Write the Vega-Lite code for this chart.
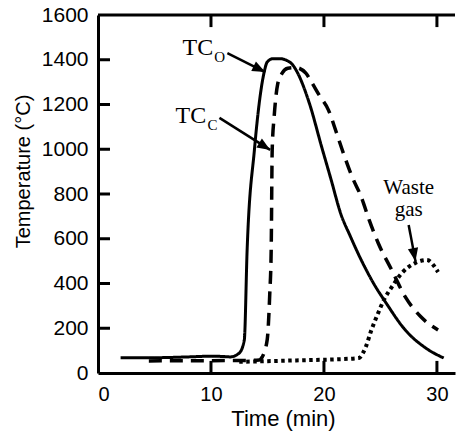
{
  "$schema": "https://vega.github.io/schema/vega-lite/v6.json",
  "autosize": "none",
  "width": 357,
  "height": 358,
  "padding": {"left": 98, "top": 15, "right": 2, "bottom": 59},
  "background": "white",
  "config": {
    "view": {"stroke": null},
    "axis": {
      "grid": false,
      "domainColor": "black",
      "labelColor": "black",
      "titleColor": "black",
      "labelFont": "Liberation Sans",
      "titleFont": "Liberation Sans",
      "titleFontWeight": "normal",
      "domainWidth": 3
    }
  },
  "layer": [
    {
      "data": {"values": [
        {"series": "TCo", "t": 2.0, "T": 68},
        {"series": "TCo", "t": 4.0, "T": 68},
        {"series": "TCo", "t": 6.0, "T": 69},
        {"series": "TCo", "t": 8.0, "T": 72},
        {"series": "TCo", "t": 10.0, "T": 75},
        {"series": "TCo", "t": 11.0, "T": 74},
        {"series": "TCo", "t": 11.7, "T": 72},
        {"series": "TCo", "t": 12.5, "T": 89},
        {"series": "TCo", "t": 12.95, "T": 147},
        {"series": "TCo", "t": 13.2, "T": 550},
        {"series": "TCo", "t": 13.85, "T": 1000},
        {"series": "TCo", "t": 14.71, "T": 1345},
        {"series": "TCo", "t": 14.98, "T": 1390},
        {"series": "TCo", "t": 15.5, "T": 1405},
        {"series": "TCo", "t": 16.04, "T": 1405},
        {"series": "TCo", "t": 17.09, "T": 1385},
        {"series": "TCo", "t": 17.53, "T": 1354},
        {"series": "TCo", "t": 18.7, "T": 1207},
        {"series": "TCo", "t": 19.8, "T": 1010},
        {"series": "TCo", "t": 20.6, "T": 870},
        {"series": "TCo", "t": 21.5, "T": 710},
        {"series": "TCo", "t": 22.3, "T": 615},
        {"series": "TCo", "t": 23.3, "T": 505},
        {"series": "TCo", "t": 24.4, "T": 400},
        {"series": "TCo", "t": 25.5, "T": 313},
        {"series": "TCo", "t": 27.2, "T": 192},
        {"series": "TCo", "t": 29.0, "T": 112},
        {"series": "TCo", "t": 30.6, "T": 67},
        {"series": "TCc", "t": 4.5, "T": 54},
        {"series": "TCc", "t": 9.0, "T": 55},
        {"series": "TCc", "t": 13.0, "T": 56},
        {"series": "TCc", "t": 14.27, "T": 58},
        {"series": "TCc", "t": 14.54, "T": 72},
        {"series": "TCc", "t": 14.98, "T": 150},
        {"series": "TCc", "t": 15.2, "T": 350},
        {"series": "TCc", "t": 15.33, "T": 550},
        {"series": "TCc", "t": 15.42, "T": 1000},
        {"series": "TCc", "t": 15.6, "T": 1150},
        {"series": "TCc", "t": 15.9, "T": 1290},
        {"series": "TCc", "t": 16.3, "T": 1340},
        {"series": "TCc", "t": 16.8, "T": 1362},
        {"series": "TCc", "t": 17.5, "T": 1365},
        {"series": "TCc", "t": 18.4, "T": 1340},
        {"series": "TCc", "t": 18.9, "T": 1300},
        {"series": "TCc", "t": 19.6, "T": 1240},
        {"series": "TCc", "t": 20.4, "T": 1175},
        {"series": "TCc", "t": 21.1, "T": 1075},
        {"series": "TCc", "t": 21.6, "T": 1000},
        {"series": "TCc", "t": 22.5, "T": 876},
        {"series": "TCc", "t": 23.3, "T": 787},
        {"series": "TCc", "t": 24.0, "T": 684},
        {"series": "TCc", "t": 24.8, "T": 581},
        {"series": "TCc", "t": 26.0, "T": 460},
        {"series": "TCc", "t": 27.2, "T": 340},
        {"series": "TCc", "t": 28.6, "T": 250},
        {"series": "TCc", "t": 30.1, "T": 192},
        {"series": "Waste gas", "t": 12.5, "T": 50},
        {"series": "Waste gas", "t": 15.0, "T": 53},
        {"series": "Waste gas", "t": 18.0, "T": 57},
        {"series": "Waste gas", "t": 21.0, "T": 61},
        {"series": "Waste gas", "t": 23.1, "T": 67},
        {"series": "Waste gas", "t": 23.4, "T": 85},
        {"series": "Waste gas", "t": 23.7, "T": 116},
        {"series": "Waste gas", "t": 24.2, "T": 192},
        {"series": "Waste gas", "t": 24.8, "T": 268},
        {"series": "Waste gas", "t": 25.3, "T": 326},
        {"series": "Waste gas", "t": 26.0, "T": 384},
        {"series": "Waste gas", "t": 26.9, "T": 447},
        {"series": "Waste gas", "t": 28.1, "T": 492},
        {"series": "Waste gas", "t": 29.1, "T": 505},
        {"series": "Waste gas", "t": 30.1, "T": 451}
      ]},
      "mark": {"type": "line", "interpolate": "monotone", "color": "black", "strokeCap": "butt"},
      "encoding": {
        "x": {
          "field": "t", "type": "quantitative",
          "scale": {"domain": [0, 31.6], "nice": false, "zero": false},
          "axis": {
            "orient": "bottom", "values": [0, 10, 20, 30], "format": "d",
            "ticks": false,
            "labelFontSize": 20, "labelPadding": 11.5,
            "title": "Time (min)", "titleFontSize": 22, "titlePadding": 4, "titleX": 185
          }
        },
        "y": {
          "field": "T", "type": "quantitative",
          "scale": {"domain": [0, 1600], "nice": false},
          "axis": {
            "values": [0, 200, 400, 600, 800, 1000, 1200, 1400, 1600], "format": "d",
            "ticks": false,
            "labelFontSize": 21, "labelPadding": 10,
            "title": "Temperature (°C)", "titleFontSize": 20, "titlePadding": 8, "titleY": 156
          }
        },
        "detail": {"field": "series"},
        "strokeDash": {
          "field": "series", "type": "nominal",
          "scale": {"domain": ["TCo", "TCc", "Waste gas"], "range": [[1, 0], [13, 8], [3.5, 3.5]]},
          "legend": null
        },
        "strokeWidth": {
          "field": "series", "type": "nominal",
          "scale": {"domain": ["TCo", "TCc", "Waste gas"], "range": [3, 4, 3.5]},
          "legend": null
        }
      }
    },
    {
      "data": {"values": [
        {"t": 0, "t2": 31.6, "T": 1600, "T2": 1600},
        {"t": 10, "t2": 10, "T": 1600, "T2": 1546},
        {"t": 20, "t2": 20, "T": 1600, "T2": 1546},
        {"t": 30, "t2": 30, "T": 1600, "T2": 1546},
        {"t": 10, "t2": 10, "T": 0, "T2": 54},
        {"t": 20, "t2": 20, "T": 0, "T2": 54},
        {"t": 30, "t2": 30, "T": 0, "T2": 54},
        {"t": 0, "t2": 1.06, "T": 200, "T2": 200},
        {"t": 0, "t2": 1.06, "T": 400, "T2": 400},
        {"t": 0, "t2": 1.06, "T": 600, "T2": 600},
        {"t": 0, "t2": 1.06, "T": 800, "T2": 800},
        {"t": 0, "t2": 1.06, "T": 1000, "T2": 1000},
        {"t": 0, "t2": 1.06, "T": 1200, "T2": 1200},
        {"t": 0, "t2": 1.06, "T": 1400, "T2": 1400}
      ]},
      "mark": {"type": "rule", "color": "black", "strokeWidth": 3},
      "encoding": {
        "x": {"field": "t", "type": "quantitative"},
        "y": {"field": "T", "type": "quantitative"},
        "x2": {"field": "t2"},
        "y2": {"field": "T2"}
      }
    },
    {
      "data": {"values": [
        {"name": "TCo", "t": 11.45, "T": 1430, "t2": 14.8, "T2": 1345, "angle": 116.6},
        {"name": "TCc", "t": 10.75, "T": 1140, "t2": 15.24, "T2": 997, "angle": 122},
        {"name": "Waste gas", "t": 27.5, "T": 661, "t2": 28.1, "T2": 500, "angle": 169}
      ]},
      "layer": [
        {
          "mark": {"type": "rule", "color": "black", "strokeWidth": 2.5},
          "encoding": {
            "x": {"field": "t", "type": "quantitative"},
            "y": {"field": "T", "type": "quantitative"},
            "x2": {"field": "t2"},
            "y2": {"field": "T2"}
          }
        },
        {
          "mark": {"type": "point", "shape": "M0,0L-0.8,2L0.8,2Z", "filled": true, "color": "black", "opacity": 1, "size": 169, "strokeWidth": 0},
          "encoding": {
            "x": {"field": "t2", "type": "quantitative"},
            "y": {"field": "T2", "type": "quantitative"},
            "angle": {"field": "angle", "type": "quantitative", "scale": null}
          }
        }
      ]
    },
    {
      "data": {"values": [{"label": "TC", "t": 7.49, "T": 1421}, {"label": "TC", "t": 6.87, "T": 1117}]},
      "mark": {"type": "text", "font": "Liberation Serif", "fontSize": 24, "align": "left", "baseline": "alphabetic", "color": "black"},
      "encoding": {
        "x": {"field": "t", "type": "quantitative"},
        "y": {"field": "T", "type": "quantitative"},
        "text": {"field": "label"}
      }
    },
    {
      "data": {"values": [{"label": "O", "t": 10.3, "T": 1390}, {"label": "C", "t": 9.7, "T": 1086}]},
      "mark": {"type": "text", "font": "Liberation Serif", "fontSize": 15, "align": "left", "baseline": "alphabetic", "color": "black"},
      "encoding": {
        "x": {"field": "t", "type": "quantitative"},
        "y": {"field": "T", "type": "quantitative"},
        "text": {"field": "label"}
      }
    },
    {
      "data": {"values": [{"label": "Waste", "t": 27.5, "T": 800}, {"label": "gas", "t": 27.5, "T": 703}]},
      "mark": {"type": "text", "font": "Liberation Serif", "fontSize": 21, "align": "center", "baseline": "alphabetic", "color": "black"},
      "encoding": {
        "x": {"field": "t", "type": "quantitative"},
        "y": {"field": "T", "type": "quantitative"},
        "text": {"field": "label"}
      }
    }
  ]
}
